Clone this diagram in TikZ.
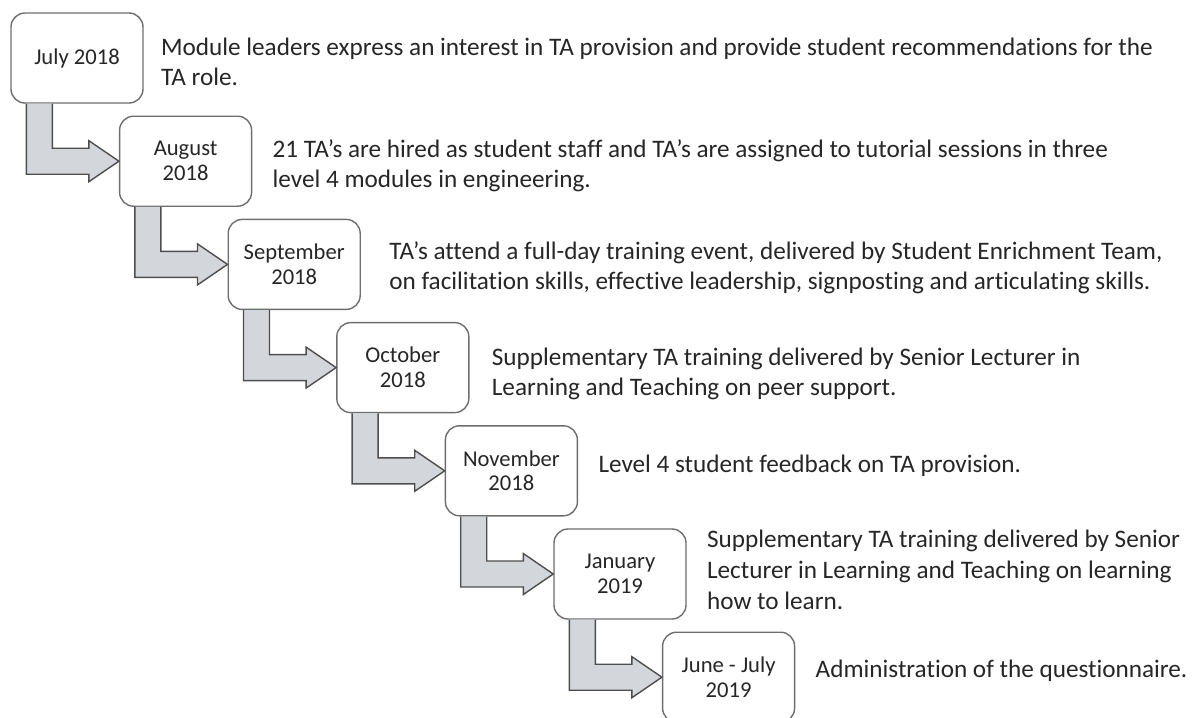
\documentclass[tikz,border=0pt]{standalone}
\usepackage{fontspec}
\setmainfont{Carlito}[Ligatures={NoCommon,NoContextual,NoRequired}]
\usetikzlibrary{positioning,calc}

\definecolor{boxline}{HTML}{6E6E6E}
\definecolor{flowfill}{HTML}{D3D6DB}
\definecolor{flowline}{HTML}{4E4E4E}
\definecolor{inktext}{HTML}{262626}

% bent block arrow: down from the foot of one box, then right into the next one
% (left open at the top, so it does not redraw the box edge)
\newcommand{\stepflow}[2]{%
    \coordinate (a1) at ($(#1.south west)+(16,0)$);
    \coordinate (a2) at ($(#1.south west)+(42,0)$);
    \coordinate (b1) at ($(#2.west)+(0,13)$);
    \coordinate (b2) at ($(#2.west)+(0,-13)$);
    \path [flow] (a1) -- (a1 |- b1) -- ($(b1)+(-30,0)$) -- ($(#2.west)+(-30,20.5)$)
        -- (#2.west) -- ($(#2.west)+(-30,-20.5)$) -- ($(b2)+(-30,0)$) -- (a2 |- b2) -- (a2);
}

\begin{document}
\begin{tikzpicture}[x=0.5pt, y=-0.5pt, node distance=51.6pt and 54.3pt]
        % Define block styles
        \tikzstyle{date} = [rectangle, draw=boxline, fill=white, line width=0.7pt, on grid,
            rounded corners=7pt, minimum width=66pt, minimum height=45pt, align=center,
            text=inktext, font=\fontsize{11.3}{12.4}\selectfont]
        \tikzstyle{note} = [align=left, inner sep=0pt, text=inktext,
            font=\fontsize{12.6}{15}\selectfont]
        \tikzstyle{flow} = [draw=flowline, fill=flowfill, line width=0.7pt, line join=miter]

        \useasboundingbox (0,0) rectangle (1195,718);

        % Nodes
        \node [date] (jul18) at (77,58) {July 2018};
        \node [date, below right=of jul18] (aug18) {August\\2018};
        \node [date, below right=of aug18] (sep18) {September\\2018};
        \node [date, below right=of sep18] (oct18) {October\\2018};
        \node [date, below right=of oct18] (nov18) {November\\2018};
        \node [date, below right=of nov18] (jan19) {January\\2019};
        \node [date, below right=of jan19] (jun19) {June - July\\2019};

        \node [note, right=8.5pt of jul18, yshift=-2pt] (jul18note) {Module leaders express an interest in TA provision and provide student recommendations for the\\TA role.};
        \node [note, right=10pt of aug18, yshift=-2.5pt] (aug18note) {21 TA’s are hired as student staff and TA’s are assigned to tutorial sessions in three\\level 4 modules in engineering.};
        \node [note, right=14pt of sep18, yshift=-1.8pt] (sep18note) {TA’s attend a full-day training event, delivered by Student Enrichment Team,\\on facilitation skills, effective leadership, signposting and articulating skills.};
        \node [note, right=11pt of oct18, yshift=-3pt] (oct18note) {Supplementary TA training delivered by Senior Lecturer in\\Learning and Teaching on peer support.};
        \node [note, right=10pt of nov18, yshift=2.5pt] (nov18note) {Level 4 student feedback on TA provision.};
        \node [note, right=10pt of jan19, yshift=2pt, font=\fontsize{12.6}{15.5}\selectfont] (jan19note) {Supplementary TA training delivered by Senior\\Lecturer in Learning and Teaching on learning\\how to learn.};
        \node [note, right=10pt of jun19, yshift=3pt] (jun19note) {Administration of the questionnaire.};

        % Arrows
        \stepflow{jul18}{aug18}
        \stepflow{aug18}{sep18}
        \stepflow{sep18}{oct18}
        \stepflow{oct18}{nov18}
        \stepflow{nov18}{jan19}
        \stepflow{jan19}{jun19}
\end{tikzpicture}
\end{document}
